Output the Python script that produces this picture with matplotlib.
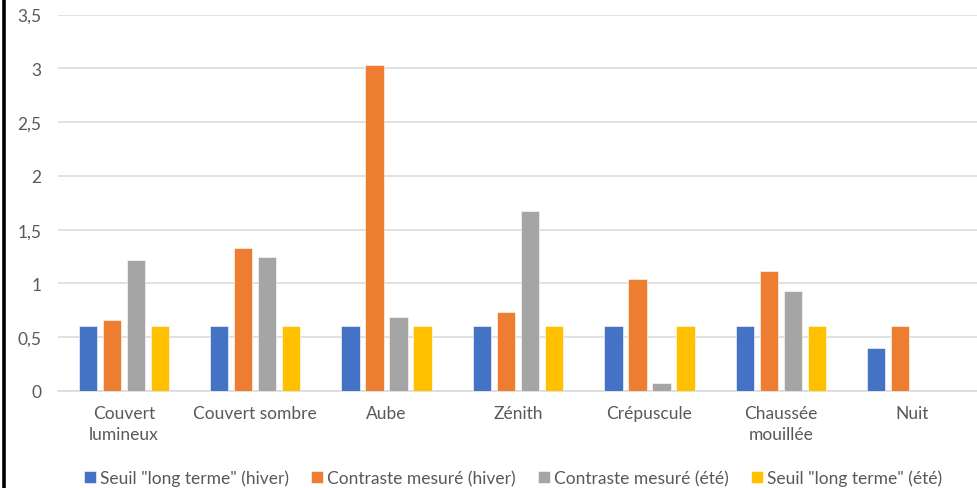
import numpy as np
import matplotlib
matplotlib.use("Agg")
import matplotlib.pyplot as plt
from matplotlib.ticker import FuncFormatter

plt.rcParams['font.family'] = ['Lato', 'DejaVu Sans']

categories = ["Couvert\nlumineux", "Couvert sombre", "Aube", "Zénith",
              "Crépuscule", "Chaussée\nmouillée", "Nuit"]
seuil_hiver = [0.6, 0.6, 0.6, 0.6, 0.6, 0.6, 0.4]
contraste_hiver = [0.66, 1.33, 3.03, 0.73, 1.04, 1.12, 0.6]
contraste_ete = [1.22, 1.25, 0.69, 1.67, 0.07, 0.93, np.nan]
seuil_ete = [0.6, 0.6, 0.6, 0.6, 0.6, 0.6, np.nan]

series = [
    ('Seuil "long terme" (hiver)', seuil_hiver, "#4472C4"),
    ("Contraste mesuré (hiver)", contraste_hiver, "#ED7D31"),
    ("Contraste mesuré (été)", contraste_ete, "#A5A5A5"),
    ('Seuil "long terme" (été)', seuil_ete, "#FFC000"),
]

fig = plt.figure(figsize=(9.77, 4.89), dpi=100)
W, H = 977, 489
ax = fig.add_axes([58 / W, (H - 392) / H, 920 / W, (392 - 15.5) / H])

x = np.arange(len(categories))
step = 0.1825
width = 0.139
for i, (name, vals, color) in enumerate(series):
    ax.bar(x + (i - 1.5) * step, vals, width=width, color=color,
           label=name, zorder=3, edgecolor="white", linewidth=0.4)

ax.set_xlim(-0.5, len(categories) - 0.5)
ax.set_ylim(0, 3.5)
ax.set_yticks(np.arange(0, 3.51, 0.5))
ax.yaxis.set_major_formatter(FuncFormatter(
    lambda v, p: ("%g" % v).replace(".", ",")))
ax.set_xticks(x)
ax.set_xticklabels(categories, linespacing=1.4)

ax.grid(axis="y", color="#d9d9d9", linewidth=1.1, zorder=0)
for side in ["top", "right", "left"]:
    ax.spines[side].set_visible(False)
ax.spines["bottom"].set_color("#d9d9d9")
ax.spines["bottom"].set_linewidth(1.1)
ax.tick_params(axis="both", length=0, colors="#595959", labelsize=12.5)
ax.tick_params(axis="y", pad=12)
ax.tick_params(axis="x", pad=10)

fig.legend(loc="center", bbox_to_anchor=(0.525, (H - 479) / H), ncol=4,
           frameon=False, fontsize=12.5, handlelength=0.7, handleheight=0.7,
           handletextpad=0.25, columnspacing=1.25, labelcolor="#595959")

# left frame line
fig.add_artist(plt.Line2D([3.5 / W, 3.5 / W], [0, 1], color="black",
                          linewidth=2.6, transform=fig.transFigure))

fig.savefig("out.png", dpi=100)
